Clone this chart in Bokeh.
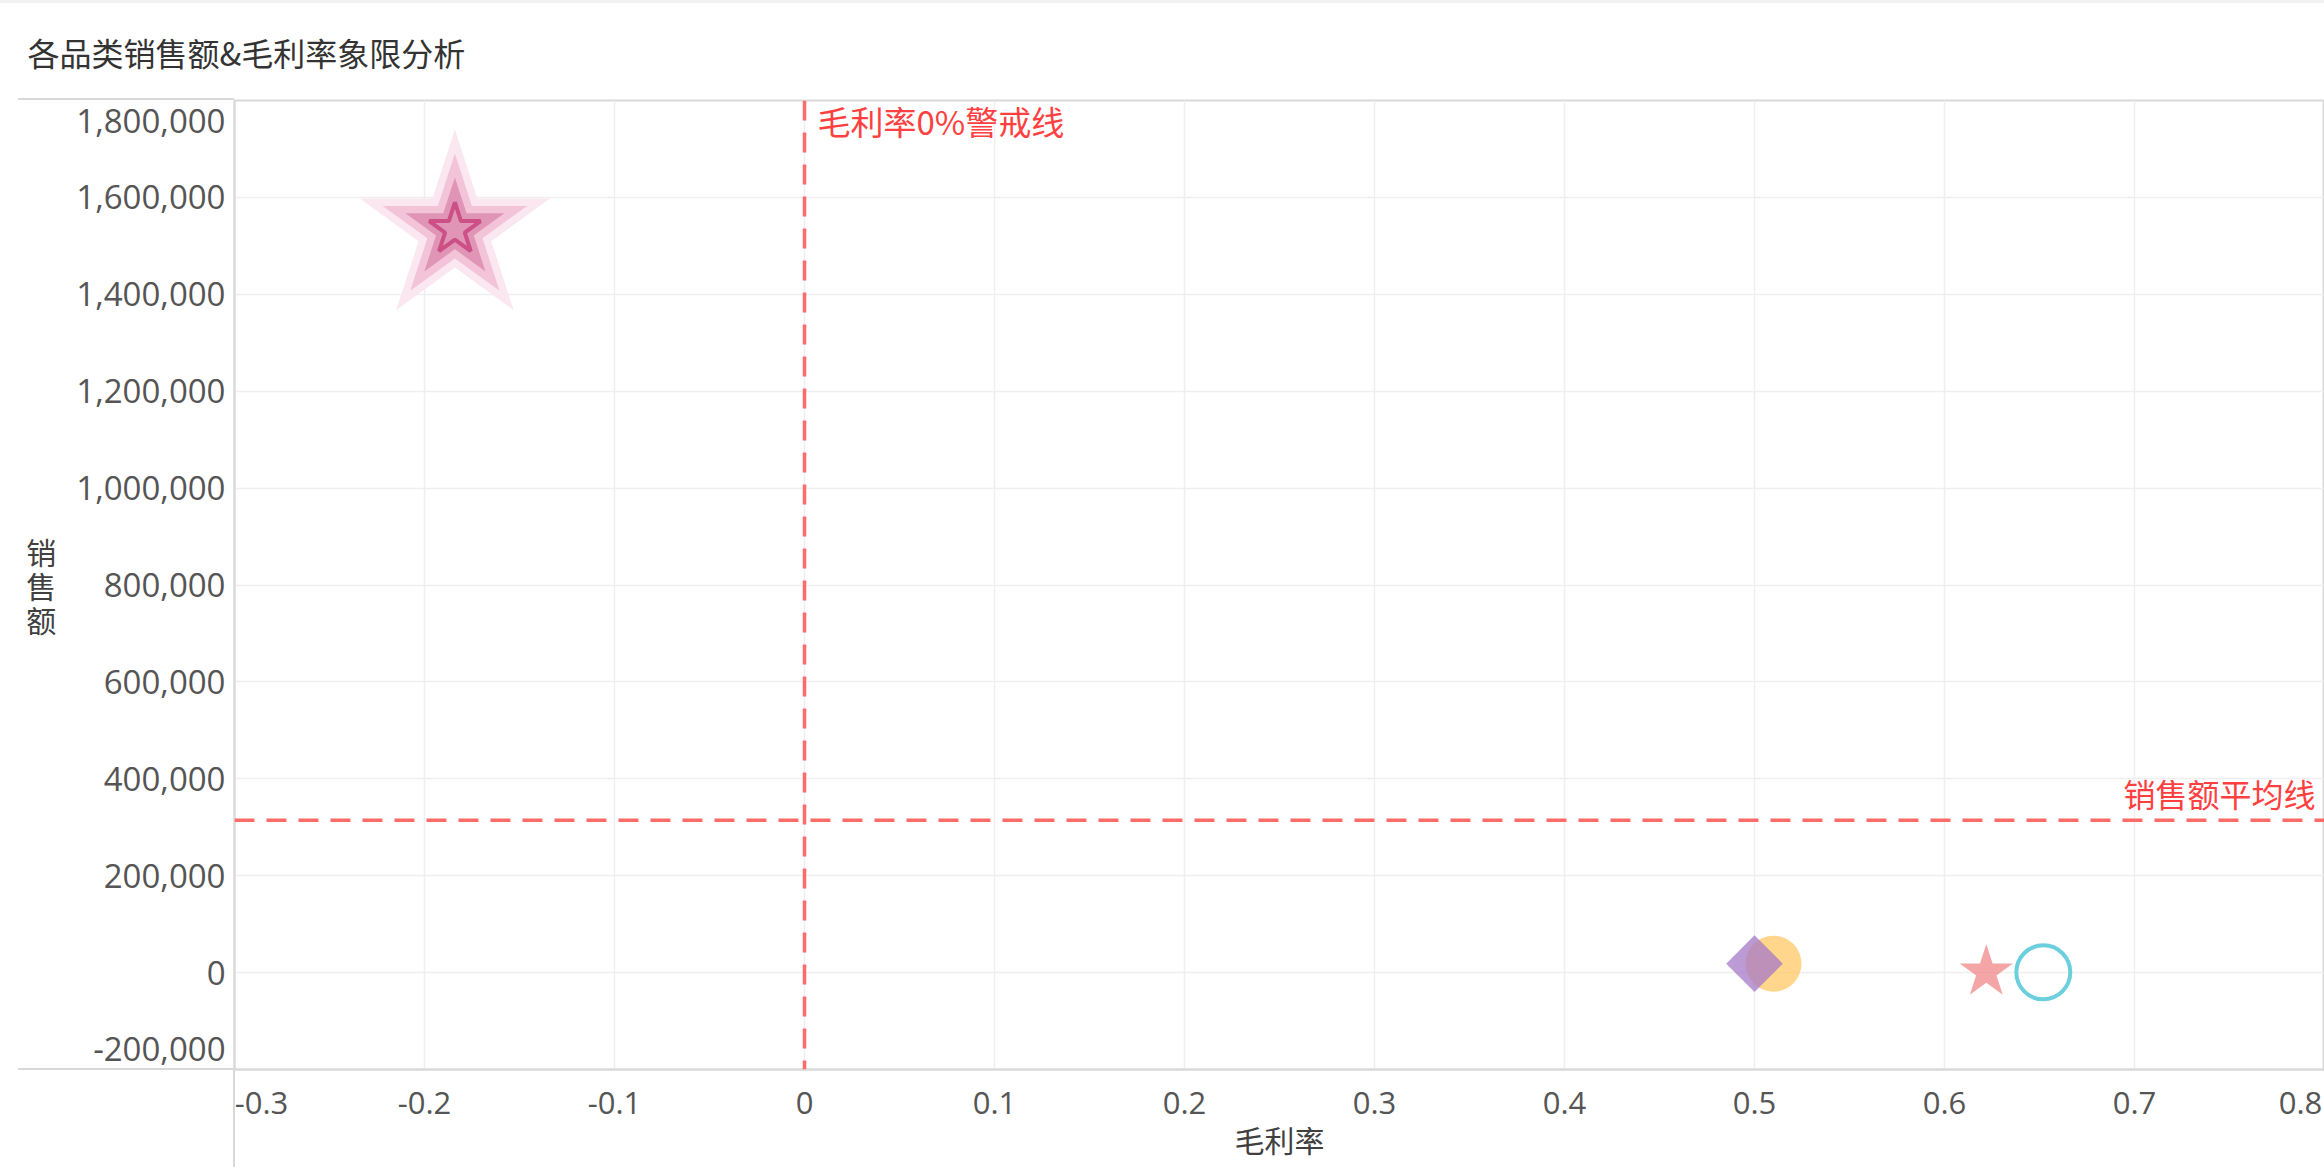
from bokeh.plotting import figure
from bokeh.models import Range1d, FixedTicker, Span, Label, ColumnDataSource, InlineStyleSheet
from bokeh.embed import file_html
from bokeh.resources import INLINE
import math

# ---------------- data ----------------
title_text = "各品类销售额&毛利率象限分析"
x_title = "毛利率"
y_title = "销售额"
margin_rate = [-0.184, 0.50, 0.51, 0.622, 0.652]        # 毛利率
sales = [1534000, 18500, 18500, 1000, 500]              # 销售额
x_ticks = [-0.3, -0.2, -0.1, 0, 0.1, 0.2, 0.3, 0.4, 0.5, 0.6, 0.7, 0.8]
x_tick_labels = ["-0.3", "-0.2", "-0.1", "0", "0.1", "0.2", "0.3", "0.4", "0.5", "0.6", "0.7", "0.8"]
y_ticks = [-200000, 0, 200000, 400000, 600000, 800000, 1000000, 1200000, 1400000, 1600000, 1800000]
y_tick_labels = ["-200,000", "0", "200,000", "400,000", "600,000", "800,000",
                 "1,000,000", "1,200,000", "1,400,000", "1,600,000", "1,800,000"]
margin_warning = 0.0
warning_text = "毛利率0%警戒线"
avg_text = "销售额平均线"
sales_avg = sum(sales) / len(sales)

# ---------------- layout ----------------
W, H = 2324, 1167
ML, MT, MB, MR = 234, 99, 98, 0
x0, x1 = x_ticks[0], x_ticks[-1]
y0, y1 = y_ticks[0], y_ticks[-1]
frame_w = W - ML - MR
frame_h = H - MT - MB
px_x = (x1 - x0) / frame_w
px_y = (y1 - y0) / frame_h

CJK = "Noto Sans CJK SC"
NUM = "Open Sans"
TICK_COLOR = "#555555"
RED = "#ff4040"
LINE_RED = "#ff6b6b"
AXIS_GRAY = "#d9d9d9"

p = figure(width=W, height=H, x_range=Range1d(x0, x1), y_range=Range1d(y0, y1),
           output_backend="svg", toolbar_location=None,
           min_border_left=ML, min_border_top=MT, min_border_bottom=MB, min_border_right=MR)
p.outline_line_color = AXIS_GRAY
p.outline_line_width = 2
p.background_fill_color = "white"
p.border_fill_color = "white"

# title
p.title.text = title_text
p.title.align = "left"
p.title.offset = 27 - ML
p.title.text_font = CJK
p.title.text_font_size = "32px"
p.title.text_font_style = "normal"
p.title.text_color = "#333333"
p.title.standoff = 52

# axes
for ax in (p.xaxis[0], p.yaxis[0]):
    ax.major_tick_line_color = None
    ax.minor_tick_line_color = None
    ax.major_tick_out = 0
    ax.major_tick_in = 0
    ax.axis_line_color = AXIS_GRAY
    ax.axis_line_width = 2
    ax.major_label_text_font = NUM
    ax.major_label_text_color = TICK_COLOR
    ax.axis_label_text_font = CJK
    ax.axis_label_text_font_size = "30px"
    ax.axis_label_text_font_style = "normal"
    ax.axis_label_text_color = "#404040"
p.xaxis.major_label_text_font_size = "31px"
p.yaxis.major_label_text_font_size = "33px"

# end labels sit inside the frame (as in the reference): shift their label positions
x_lab_pos = list(x_ticks)
x_lab_pos[0] = x_ticks[0] + 27 * px_x
x_lab_pos[-1] = x_ticks[-1] - 24 * px_x
p.xaxis.ticker = FixedTicker(ticks=x_lab_pos)
p.xaxis.major_label_overrides = {t: s for t, s in zip(x_lab_pos, x_tick_labels)}
p.xaxis.major_label_standoff = 22
p.xaxis.axis_label = x_title
p.xaxis.axis_label_standoff = 0

y_lab_pos = list(y_ticks)
y_lab_pos[0] = y_ticks[0] + 21 * px_y
y_lab_pos[-1] = y_ticks[-1] - 21 * px_y
p.yaxis.ticker = FixedTicker(ticks=y_lab_pos)
p.yaxis.major_label_overrides = {t: s for t, s in zip(y_lab_pos, y_tick_labels)}
p.yaxis.major_label_standoff = 9
if "axis_label_orientation" in p.yaxis[0].properties():
    p.yaxis.axis_label = "\n".join(y_title)
    p.yaxis.axis_label_orientation = "horizontal"
    p.yaxis.axis_label_text_line_height = 0.78
else:
    p.yaxis.axis_label = y_title
p.yaxis.axis_label_standoff = 17

p.xgrid.ticker = FixedTicker(ticks=x_ticks)
p.ygrid.ticker = FixedTicker(ticks=y_ticks)
p.xgrid.grid_line_color = "#efefef"
p.ygrid.grid_line_color = "#efefef"
p.xgrid.grid_line_width = 1.5
p.ygrid.grid_line_width = 1.5

# border lines that run past the frame (drawn by the page's stylesheet)
p.stylesheets = [InlineStyleSheet(css=f"""
:host::before {{ content: ""; position: absolute; left: 18px; top: {MT - 1}px;
  width: {ML - 18}px; height: {frame_h - 2}px; border-top: 2px solid {AXIS_GRAY};
  border-bottom: 2px solid {AXIS_GRAY}; z-index: 10; pointer-events: none; }}
:host::after {{ content: ""; position: absolute; left: 0px; top: 0px;
  width: {W}px; height: {H}px; z-index: 10; pointer-events: none;
  background-image: linear-gradient(#f0f0f0, #f0f0f0), linear-gradient({AXIS_GRAY}, {AXIS_GRAY});
  background-repeat: no-repeat, no-repeat;
  background-size: {W}px 3px, 2px {MB}px;
  background-position: 0px 0px, {ML - 1}px {MT + frame_h}px; }}
""")]

# reference lines
p.add_layout(Span(location=margin_warning, dimension="height", line_color=LINE_RED,
                  line_dash="20 12", line_width=3.5))
p.add_layout(Span(location=sales_avg, dimension="width", line_color=LINE_RED,
                  line_dash="20 12", line_width=3.5))
p.add_layout(Label(x=margin_warning, y=y1, text=warning_text, x_offset=13, y_offset=-20,
                   text_align="left", text_baseline="middle", text_font=CJK,
                   text_font_size="33px", text_color=RED))
p.add_layout(Label(x=x1, y=sales_avg, text=avg_text, x_offset=-9, y_offset=27,
                   text_align="right", text_baseline="middle", text_font=CJK,
                   text_font_size="32px", text_color=RED))

def src(i):
    return ColumnDataSource(dict(x=[margin_rate[i]], y=[sales[i]]))

# 0: big star with ripple
for sz, col in [(200, "#fbe7f0"), (152, "#f3c4d8"), (104, "#e095b7")]:
    p.scatter("x", "y", source=src(0), marker="star", size=sz, fill_color=col, line_color=None)
p.scatter("x", "y", source=src(0), marker="star", size=54, fill_color="#e095b7",
          line_color="#cc4f86", line_width=4)
# 2: orange circle
p.scatter("x", "y", source=src(2), marker="circle", size=56, fill_color="#ffc45a",
          fill_alpha=0.7, line_color=None)
# 1: purple diamond
p.scatter("x", "y", source=src(1), marker="square", angle=math.pi / 4, size=40,
          fill_color="#a578c8", fill_alpha=0.75, line_color=None)
# 3: pink star
p.scatter("x", "y", source=src(3), marker="star", size=56, fill_color="#f08080",
          fill_alpha=0.7, line_color=None)
# 4: cyan hollow circle
p.scatter("x", "y", source=src(4), marker="circle", size=54, fill_color=None,
          line_color="#6ccfdd", line_width=4)

open("out.html", "w").write(file_html(p, INLINE))
